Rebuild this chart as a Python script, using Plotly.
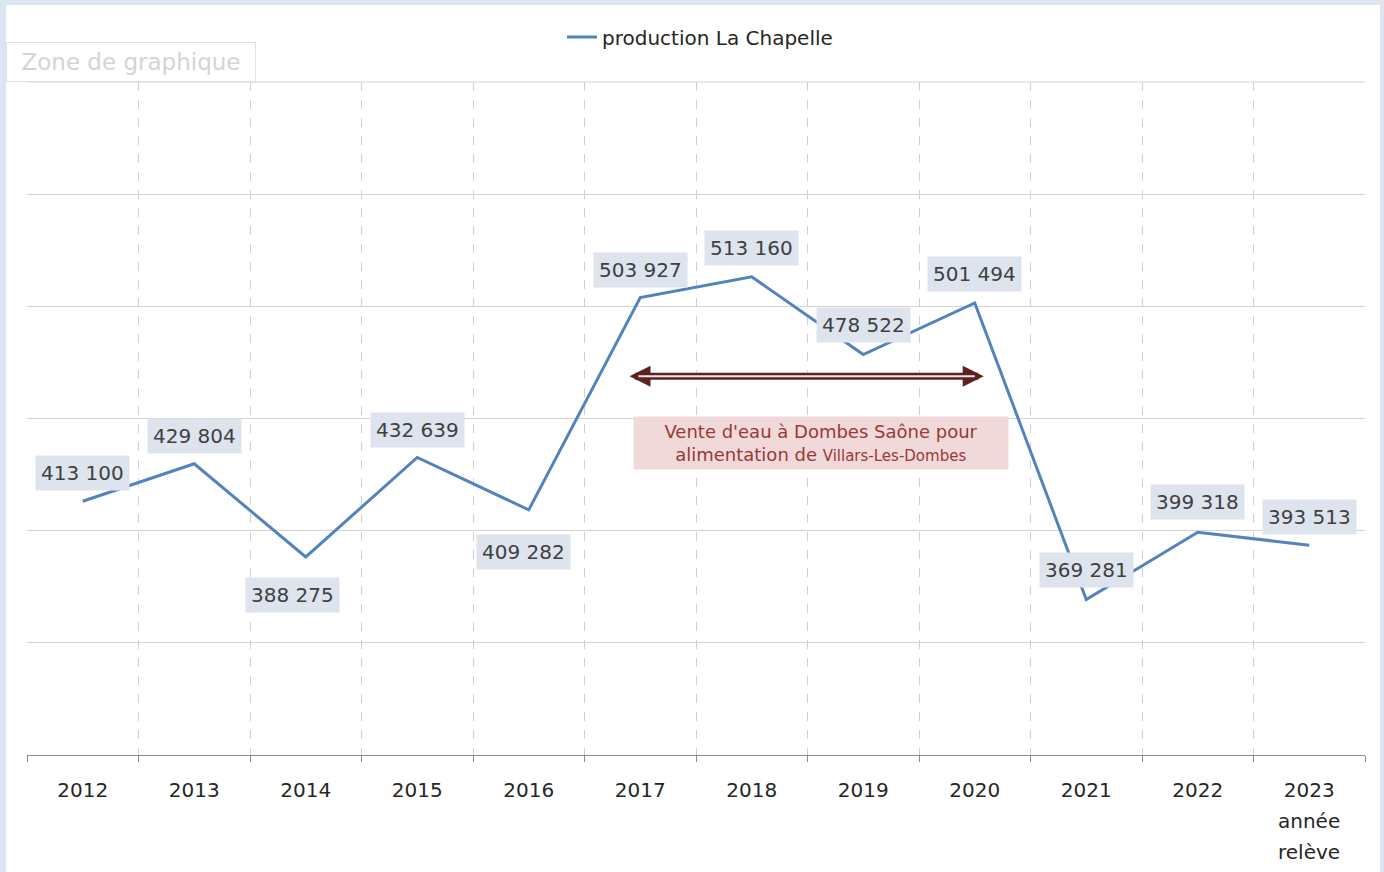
import plotly.graph_objects as go

years = ["2012", "2013", "2014", "2015", "2016", "2017", "2018", "2019", "2020", "2021", "2022", "2023"]
tick_labels = ["2012", "2013", "2014", "2015", "2016", "2017", "2018", "2019", "2020", "2021", "2022", "2023<br>année<br>relève"]
production = [413100, 429804, 388275, 432639, 409282, 503927, 513160, 478522, 501494, 369281, 399318, 393513]
label_xshift = [0, 0, -13, 0, -5, 0, 0, 0, 0, 0, 0, 0]
label_yshift = [28, 28, -38, 27, -42, 28, 29, 30, 29, 30, 30, 28]

FONT = "DejaVu Sans"
xs = list(range(len(years)))

def fmt(v):
    return f"{v:,}".replace(",", " ")

fig = go.Figure()
fig.add_trace(go.Scatter(
    x=xs, y=production, mode="lines", name="production La Chapelle",
    line=dict(color="#5383bd", width=3),
))

W, H = 1384, 872
ml, mr, mt, mb = 27, 19, 82, 117
pw, ph = W - ml - mr, H - mt - mb

def px_x(p):
    return (p - ml) / pw

def px_y(p):
    return (H - mb - p) / ph

# white chart area over light-blue frame
fig.add_shape(type="rect", xref="paper", yref="paper",
              x0=px_x(6), x1=px_x(1380), y0=px_y(900), y1=px_y(5),
              fillcolor="white", line=dict(width=0), layer="below")
# top gridline (range edge)
fig.add_shape(type="line", xref="paper", yref="paper", x0=0, x1=1, y0=1, y1=1,
              line=dict(color="#d4d4d4", width=1), layer="below")

annotations = []
for i, v in enumerate(production):
    annotations.append(dict(
        x=xs[i], y=v, text=fmt(v), showarrow=False,
        xshift=label_xshift[i], yshift=label_yshift[i],
        font=dict(family=FONT, size=20, color="#404040"),
        bgcolor="#dde4ee", borderpad=5,
    ))

# extra lines of multi-line tick labels (wider line spacing than plotly's default)
ticktext = []
for i, t in enumerate(tick_labels):
    parts = t.split("<br>")
    ticktext.append(parts[0])
    for k, extra in enumerate(parts[1:], start=1):
        annotations.append(dict(
            x=xs[i], y=px_y(790 + 31 * k), xref="x", yref="paper", text=extra,
            showarrow=False, yanchor="middle",
            font=dict(family=FONT, size=20, color="#262626"),
        ))

# double-headed arrow
arrow_y = 468800
annotations.append(dict(x=8.08, y=arrow_y, ax=4.89, ay=arrow_y, axref="x", ayref="y",
                        xref="x", yref="y", text="", showarrow=True,
                        arrowhead=2, arrowside="end+start", arrowwidth=7,
                        arrowsize=0.6, arrowcolor="#5a2321"))
annotations.append(dict(x=8.0, y=arrow_y, ax=4.97, ay=arrow_y, axref="x", ayref="y",
                        xref="x", yref="y", text="", showarrow=True,
                        arrowhead=0, arrowwidth=2, arrowcolor="#f4e6e6"))

# text box
annotations.append(dict(
    x=6.62, y=439000, xref="x", yref="y", showarrow=False,
    text="Vente d'eau à Dombes Saône pour<br>alimentation de <span style='font-size:15px'>Villars-Les-Dombes</span>",
    font=dict(family=FONT, size=18, color="#963a37"),
    bgcolor="#f2d9d9", width=372, height=50, align="center",
))

# "Zone de graphique" tooltip artifact
annotations.append(dict(
    x=px_x(131), y=px_y(62), xref="paper", yref="paper", showarrow=False,
    xanchor="center", yanchor="middle",
    text="Zone de graphique", font=dict(family=FONT, size=23, color="#d4d4d4"),
    bgcolor="white", bordercolor="#e0e0e0", borderwidth=1, width=246, height=36,
))

fig.update_layout(
    width=W, height=H,
    margin=dict(l=ml, r=mr, t=mt, b=mb),
    paper_bgcolor="#dce6f2", plot_bgcolor="rgba(0,0,0,0)",
    showlegend=True,
    legend=dict(orientation="h", x=px_x(700), y=px_y(37), xanchor="center", yanchor="middle",
                font=dict(family=FONT, size=20, color="#262626"), bgcolor="rgba(0,0,0,0)"),
    annotations=annotations,
    xaxis=dict(
        range=[-0.5, len(years) - 0.5],
        tickmode="array", tickvals=xs, ticktext=ticktext,
        ticks="", showgrid=False, zeroline=False,
        showline=True, linecolor="#8a8a8a", linewidth=1,
        ticklabelstandoff=17,
        tickfont=dict(family=FONT, size=20, color="#262626"),
        minor=dict(tickmode="array", tickvals=[i - 0.5 for i in range(len(years) + 1)],
                   showgrid=True, griddash="dash", gridcolor="#d0d0d0", gridwidth=1,
                   ticks="outside", ticklen=6, tickcolor="#8a8a8a"),
    ),
    yaxis=dict(
        range=[300000, 600000], tickmode="linear", tick0=300000, dtick=50000,
        showticklabels=False, ticks="", showgrid=True, gridcolor="#d4d4d4", gridwidth=1,
        zeroline=False, showline=False,
    ),
)

fig.write_html("out.html", config={"displayModeBar": False},
               post_script="document.body.style.margin='0';document.body.style.overflow='hidden';")
